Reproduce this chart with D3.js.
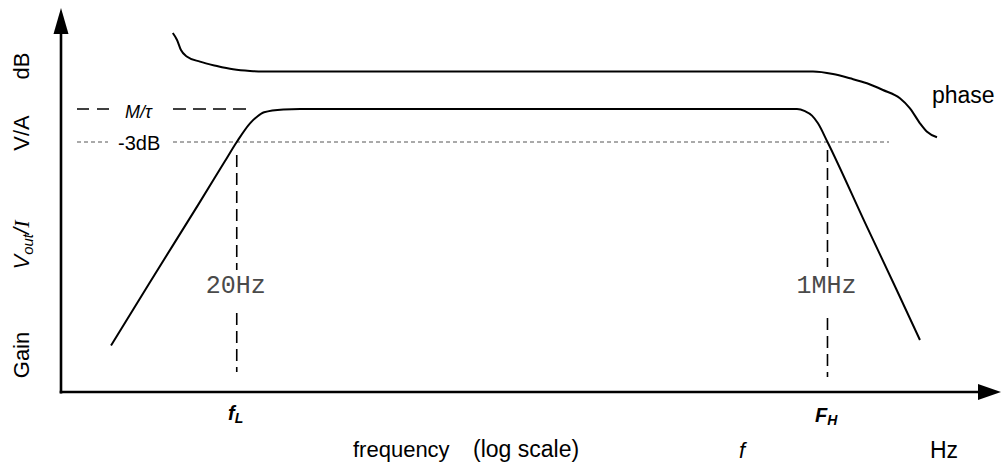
<!DOCTYPE html>
<html>
<head>
<meta charset="utf-8">
<script src="https://cdn.jsdelivr.net/npm/d3@7"></script>
<style>
  html, body { margin: 0; padding: 0; background: #fff; }
  svg { display: block; }
  text { font-family: "Liberation Sans", Arial, sans-serif; fill: #000; }
</style>
</head>
<body>
<svg id="chart" width="1001" height="467"></svg>
<script>
// ---- data ----
const gainFreq = [2, 4, 10, 16, 20, 25.5, 29, 33, 47, 64, 572e3, 662e3, 753e3, 840e3, 1e6, 2e6, 3.5e6, 5.44e6];
const gainDb   = [-21.5, -15.9, -8.6, -4.8, -3, -1.3, -0.7, -0.3, -0.05, 0, 0, -0.2, -0.6, -1.3, -3, -10.4, -16.3, -21];

const phaseFreq = [6.2, 6.7, 7.2, 8.0, 10.2, 13.9, 18.7, 25.5, 31.8, 767e3, 1.106e6, 1.51e6, 2.06e6, 2.76e6, 3.77e6, 4.53e6, 5.44e6, 6.19e6, 7.43e6];
const phaseDeg  = [52.5, 43, 29.3, 20.5, 13.4, 7.5, 3, 0.7, 0, 0, -3.4, -9.3, -16.1, -25.2, -36.5, -50.2, -70.6, -82.1, -89.7];

const cornerFreqs  = [20, 1e6];
const cornerLabels = ["20Hz", "1MHz"];
const plateauDb = 0;
const cutoffDb = -3;

// ---- scales ----
const svg = d3.select("#chart");
const x = d3.scaleLog().domain([0.8, 24e6]).range([61, 1001]);
const y = d3.scaleLinear().domain([-26, 9]).range([395, 10]);
const yPhase = d3.scaleLinear().domain([-90, 0]).range([137.5, 71.5]);

const axisY = 392, axisX = 61;

// ---- axes with arrows ----
svg.append("line").attr("x1", axisX).attr("x2", axisX).attr("y1", axisY + 1.5).attr("y2", 30)
  .attr("stroke", "#000").attr("stroke-width", 2.6);
svg.append("path").attr("d", `M${axisX},8 L${axisX - 7.5},34 L${axisX + 7.5},34 Z`).attr("fill", "#000");

svg.append("line").attr("x1", axisX - 1.3).attr("x2", 980).attr("y1", axisY).attr("y2", axisY)
  .attr("stroke", "#000").attr("stroke-width", 2.6);
svg.append("path").attr("d", `M1001,${axisY} L978,${axisY - 8} L978,${axisY + 8} Z`).attr("fill", "#000");

// ---- guides ----
svg.append("line").attr("x1", 77).attr("x2", 110).attr("y1", y(plateauDb)).attr("y2", y(plateauDb))
  .attr("stroke", "#000").attr("stroke-width", 1.6).attr("stroke-dasharray", "12,8");
svg.append("line").attr("x1", 173).attr("x2", 248).attr("y1", y(plateauDb)).attr("y2", y(plateauDb))
  .attr("stroke", "#000").attr("stroke-width", 1.6).attr("stroke-dasharray", "13,7");
svg.append("text").attr("x", 125).attr("y", y(plateauDb) + 9).style("font-size", "18px").style("font-style", "italic")
  .text("M/τ");

svg.append("line").attr("x1", 77).attr("x2", 108).attr("y1", y(cutoffDb)).attr("y2", y(cutoffDb))
  .attr("stroke", "#555").attr("stroke-width", 1).attr("stroke-dasharray", "4,3");
svg.append("line").attr("x1", 173).attr("x2", 889).attr("y1", y(cutoffDb)).attr("y2", y(cutoffDb))
  .attr("stroke", "#555").attr("stroke-width", 1).attr("stroke-dasharray", "4,3");
svg.append("text").attr("x", 118).attr("y", y(cutoffDb) + 7.5).style("font-size", "20px").text("-3dB");

const vTops = [155, 150], vBots = [372, 377], gapTop = [270, 267], gapBot = [313, 318];
cornerFreqs.forEach((f, i) => {
  const cx = x(f);
  svg.append("line").attr("x1", cx).attr("x2", cx).attr("y1", vTops[i]).attr("y2", gapTop[i])
    .attr("stroke", "#000").attr("stroke-width", 1.6).attr("stroke-dasharray", "12,6");
  svg.append("line").attr("x1", cx).attr("x2", cx).attr("y1", gapBot[i]).attr("y2", vBots[i])
    .attr("stroke", "#000").attr("stroke-width", 1.6).attr("stroke-dasharray", "12,6");
  svg.append("text").attr("x", cx - 1).attr("y", 293).attr("text-anchor", "middle")
    .style("font-family", "'Liberation Mono', 'Courier New', monospace").style("font-size", "25px")
    .style("fill", "#4a4a4a").text(cornerLabels[i]);
});

// ---- curves ----
const gainData = gainFreq.map((f, i) => [f, gainDb[i]]);
const phaseData = phaseFreq.map((f, i) => [f, phaseDeg[i]]);

svg.append("path").datum(gainData)
  .attr("d", d3.line().x(d => x(d[0])).y(d => y(d[1])).curve(d3.curveMonotoneX))
  .attr("fill", "none").attr("stroke", "#000").attr("stroke-width", 2);

svg.append("path").datum(phaseData)
  .attr("d", d3.line().x(d => x(d[0])).y(d => yPhase(d[1])).curve(d3.curveMonotoneX))
  .attr("fill", "none").attr("stroke", "#000").attr("stroke-width", 2);

// ---- labels ----
svg.append("text").attr("x", 932).attr("y", 103).style("font-size", "23px").text("phase");

function rot(cy, build) {
  const t = svg.append("text").attr("transform", `translate(29,${cy}) rotate(-90)`)
    .attr("text-anchor", "middle").style("font-size", "22px");
  build(t);
}
rot(66, t => t.text("dB"));
rot(133, t => t.text("V/A"));
rot(245, t => {
  t.append("tspan").style("font-style", "italic").text("V");
  t.append("tspan").style("font-style", "italic").style("font-size", "15px").attr("dy", 4).text("out");
  t.append("tspan").attr("dy", -4).style("font-style", "italic").text("/");
  t.append("tspan").style("font-family", "'Liberation Serif', serif").style("font-style", "italic").text("I");
});
rot(355, t => t.text("Gain"));

const fl = svg.append("text").attr("x", 228).attr("y", 420).style("font-size", "20px")
  .style("font-weight", "bold").style("font-style", "italic");
fl.append("tspan").text("f");
fl.append("tspan").attr("dy", 3).style("font-size", "14px").text("L");

const fh = svg.append("text").attr("x", 815).attr("y", 422).style("font-size", "20px")
  .style("font-weight", "bold").style("font-style", "italic");
fh.append("tspan").text("F");
fh.append("tspan").attr("dy", 3).style("font-size", "14px").text("H");

svg.append("text").attr("x", 353).attr("y", 457).style("font-size", "22px").text("frequency");
svg.append("text").attr("x", 473).attr("y", 457).style("font-size", "23px").text("(log scale)");
svg.append("text").attr("x", 739).attr("y", 458).style("font-size", "22px").style("font-style", "italic").text("f");
svg.append("text").attr("x", 930).attr("y", 458).style("font-size", "23px").text("Hz");
</script>
</body>
</html>
